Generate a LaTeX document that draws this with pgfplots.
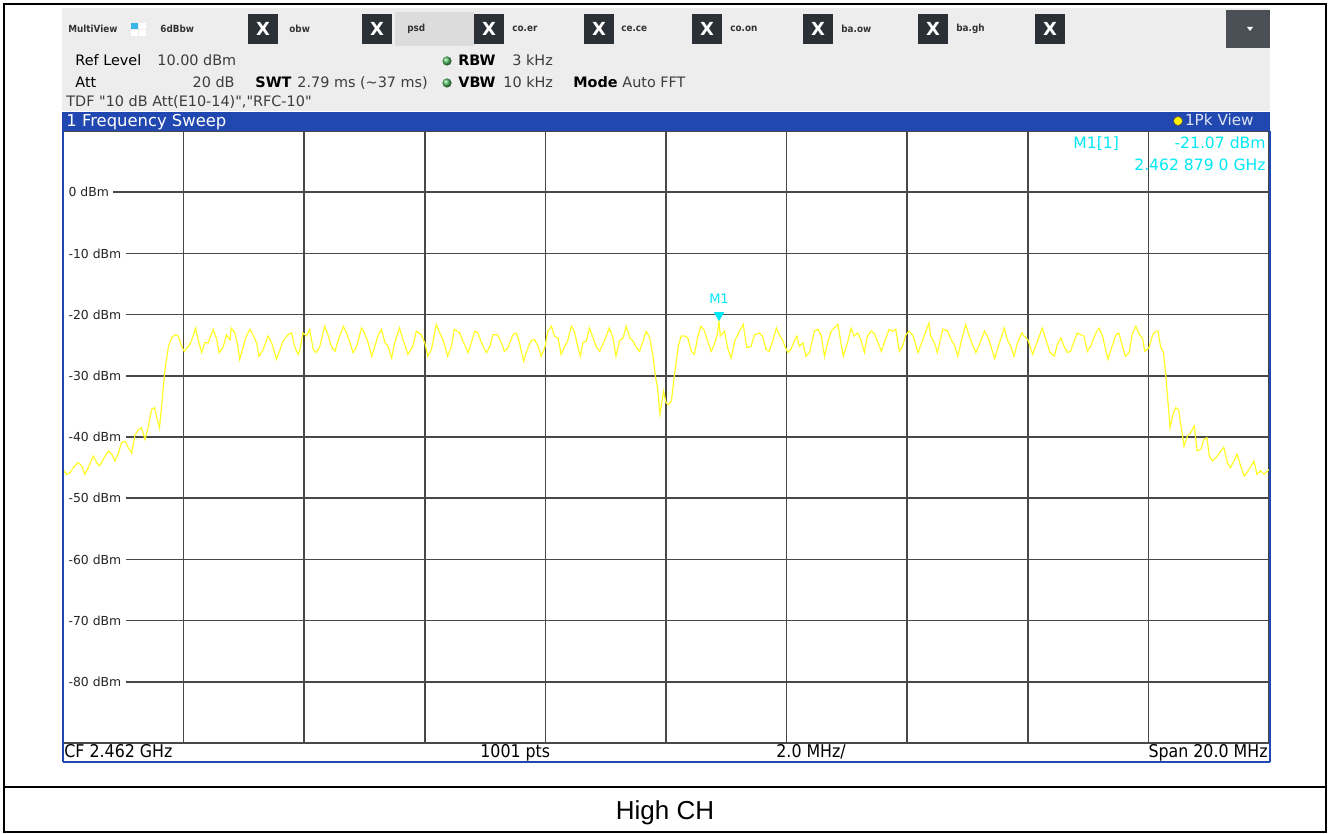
\documentclass[border=0pt]{standalone}
\usepackage{pgfplots}
\pgfplotsset{compat=1.18}
\usepackage{fontspec}
\setmainfont{DejaVu Sans}[Ligatures=TeXOff]
\newfontfamily\cond{DejaVu Sans Condensed}
\newfontfamily\arialf{Liberation Sans}
\definecolor{gridc}{RGB}{72,72,72}
\definecolor{rsblue}{RGB}{32,72,176}
\definecolor{tbgrey}{RGB}{237,237,237}
\definecolor{tabgrey}{RGB}{220,220,220}
\definecolor{xbox}{RGB}{43,48,54}
\definecolor{ddgrey}{RGB}{74,80,85}
\definecolor{mcyan}{RGB}{0,232,245}
\definecolor{trace}{RGB}{255,255,40}
\definecolor{valgrey}{RGB}{60,60,60}
\definecolor{iconblue}{RGB}{56,182,232}
\definecolor{dotgreen}{RGB}{80,185,95}
\newcommand\fs[1]{\fontsize{#1}{#1}\selectfont}

\pgfplotstableread{
f db
-10.00 -45.3
-9.94 -46.1
-9.88 -45.8
-9.83 -45.0
-9.75 -44.2
-9.69 -44.7
-9.64 -46.1
-9.58 -45.0
-9.50 -43.1
-9.44 -44.2
-9.39 -44.7
-9.33 -43.6
-9.25 -42.3
-9.19 -42.8
-9.14 -43.9
-9.08 -42.6
-9.03 -40.9
-8.97 -40.7
-8.92 -41.7
-8.86 -42.6
-8.81 -39.8
-8.75 -38.8
-8.70 -38.5
-8.64 -40.4
-8.59 -38.5
-8.53 -35.5
-8.48 -35.2
-8.45 -36.6
-8.40 -38.5
-8.37 -35.5
-8.31 -29.0
-8.25 -25.2
-8.20 -23.8
-8.14 -23.3
-8.09 -23.5
-8.03 -25.2
-7.99 -26.0
-7.92 -25.2
-7.87 -24.3
-7.80 -22.2
-7.76 -24.1
-7.70 -26.2
-7.65 -24.6
-7.59 -24.6
-7.51 -22.4
-7.45 -24.1
-7.41 -26.2
-7.34 -25.2
-7.29 -23.3
-7.23 -24.1
-7.21 -22.2
-7.15 -23.0
-7.10 -25.2
-7.07 -27.3
-7.01 -25.2
-6.96 -23.5
-6.90 -22.4
-6.85 -23.3
-6.79 -24.6
-6.75 -26.8
-6.68 -25.7
-6.60 -23.5
-6.54 -24.6
-6.46 -27.3
-6.40 -25.7
-6.35 -24.3
-6.27 -23.3
-6.21 -23.0
-6.16 -25.2
-6.10 -26.5
-6.07 -25.7
-6.02 -23.0
-5.96 -23.5
-5.91 -22.4
-5.85 -25.7
-5.80 -26.2
-5.74 -25.2
-5.66 -21.9
-5.60 -23.5
-5.55 -25.2
-5.49 -26.0
-5.44 -24.3
-5.35 -21.9
-5.30 -23.0
-5.24 -24.6
-5.19 -26.2
-5.13 -25.2
-5.05 -22.2
-5.00 -23.0
-4.94 -24.6
-4.88 -26.8
-4.83 -25.2
-4.77 -23.3
-4.72 -22.4
-4.66 -24.6
-4.61 -25.2
-4.55 -27.1
-4.50 -24.6
-4.42 -22.2
-4.36 -24.1
-4.28 -26.5
-4.20 -25.2
-4.14 -22.7
-4.06 -23.3
-4.00 -24.6
-3.95 -26.8
-3.89 -25.7
-3.81 -21.6
-3.75 -23.0
-3.70 -24.1
-3.62 -26.8
-3.56 -25.2
-3.51 -22.4
-3.42 -23.0
-3.37 -24.3
-3.28 -26.2
-3.23 -24.6
-3.17 -22.7
-3.12 -23.0
-3.06 -24.6
-2.98 -26.2
-2.92 -25.2
-2.87 -23.3
-2.79 -23.3
-2.73 -24.6
-2.68 -26.0
-2.62 -25.4
-2.54 -23.3
-2.48 -23.0
-2.43 -24.6
-2.36 -27.6
-2.32 -26.2
-2.24 -24.3
-2.18 -24.1
-2.12 -25.2
-2.07 -26.8
-2.01 -25.4
-1.96 -22.7
-1.90 -21.9
-1.85 -23.5
-1.79 -23.8
-1.74 -26.5
-1.68 -25.2
-1.63 -24.3
-1.57 -21.9
-1.52 -22.7
-1.46 -25.4
-1.42 -26.8
-1.38 -24.6
-1.32 -24.3
-1.27 -22.2
-1.21 -23.8
-1.16 -25.2
-1.10 -26.0
-1.05 -24.9
-0.99 -23.5
-0.94 -22.2
-0.88 -23.8
-0.83 -26.8
-0.77 -24.3
-0.71 -23.8
-0.66 -21.9
-0.60 -23.8
-0.55 -24.3
-0.49 -25.4
-0.44 -26.0
-0.38 -24.3
-0.33 -22.7
-0.27 -23.8
-0.22 -26.5
-0.18 -29.8
-0.14 -32.0
-0.10 -36.3
-0.07 -34.4
-0.04 -32.5
0.00 -34.4
0.04 -34.7
0.09 -34.1
0.14 -29.8
0.20 -25.4
0.25 -23.5
0.31 -23.5
0.36 -23.8
0.42 -26.0
0.47 -26.5
0.53 -23.5
0.58 -21.9
0.64 -22.7
0.69 -24.3
0.75 -26.0
0.80 -24.9
0.85 -23.3
0.879 -21.07
0.90 -23.5
0.97 -22.7
1.02 -25.4
1.08 -27.1
1.14 -24.3
1.22 -22.7
1.28 -21.6
1.34 -25.4
1.41 -25.2
1.47 -23.3
1.55 -23.0
1.60 -23.5
1.66 -25.7
1.71 -26.0
1.77 -24.3
1.83 -22.2
1.88 -23.3
1.94 -24.3
1.96 -24.9
2.02 -26.2
2.07 -25.7
2.13 -24.3
2.17 -23.5
2.21 -25.2
2.27 -24.6
2.32 -26.8
2.38 -26.2
2.46 -22.7
2.52 -22.4
2.57 -23.3
2.63 -26.8
2.68 -24.6
2.74 -22.7
2.79 -22.2
2.85 -21.6
2.90 -24.6
2.94 -26.8
3.01 -24.6
3.07 -22.2
3.12 -23.5
3.18 -23.0
3.23 -24.1
3.29 -26.2
3.34 -23.5
3.40 -22.7
3.45 -23.0
3.54 -25.2
3.57 -26.0
3.62 -24.6
3.70 -22.4
3.76 -22.7
3.81 -22.4
3.87 -26.0
3.92 -25.2
3.98 -23.3
4.03 -22.7
4.09 -23.3
4.15 -25.2
4.18 -26.2
4.23 -24.9
4.28 -23.5
4.36 -21.4
4.39 -23.5
4.45 -24.6
4.50 -26.2
4.59 -22.4
4.67 -22.7
4.73 -24.1
4.78 -24.9
4.84 -26.8
4.89 -24.6
4.97 -21.6
5.03 -23.5
5.08 -24.9
5.14 -26.2
5.22 -24.3
5.28 -22.7
5.33 -23.5
5.39 -25.2
5.45 -27.2
5.51 -25.2
5.61 -22.2
5.66 -24.1
5.72 -25.2
5.77 -26.8
5.83 -24.6
5.90 -23.0
5.94 -23.5
6.00 -24.1
6.08 -26.5
6.16 -24.3
6.24 -22.2
6.30 -24.1
6.37 -26.2
6.44 -26.8
6.49 -24.9
6.55 -23.8
6.60 -25.2
6.66 -26.2
6.71 -26.0
6.77 -24.3
6.82 -23.0
6.88 -23.3
6.93 -23.5
6.99 -26.0
7.04 -25.2
7.13 -23.0
7.18 -22.2
7.24 -23.5
7.29 -25.7
7.33 -27.3
7.39 -25.4
7.46 -23.3
7.51 -23.0
7.57 -25.2
7.62 -26.8
7.68 -26.2
7.73 -23.3
7.79 -21.9
7.85 -23.3
7.90 -23.8
7.94 -26.0
8.01 -25.4
8.07 -23.3
8.12 -22.7
8.16 -22.7
8.20 -25.2
8.25 -26.2
8.29 -30.1
8.33 -34.9
8.36 -38.5
8.40 -36.6
8.45 -35.2
8.50 -35.5
8.55 -38.8
8.59 -41.5
8.65 -39.8
8.70 -39.3
8.76 -38.2
8.81 -42.3
8.87 -42.0
8.92 -40.4
8.97 -40.1
9.01 -43.1
9.06 -43.9
9.12 -43.4
9.20 -42.3
9.25 -41.7
9.31 -44.2
9.36 -45.0
9.42 -43.9
9.47 -42.8
9.53 -44.7
9.59 -46.4
9.67 -45.3
9.75 -43.9
9.80 -46.1
9.86 -45.5
9.92 -46.1
10.00 -45.3
}\tracedata

\begin{document}
\begin{tikzpicture}[x=0.5pt,y=-0.5pt]
\path[fill=white] (0,0) rectangle (1330,834);
\coordinate (axSW) at (63,743);
% toolbar
\fill[tbgrey] (62,8) rectangle (1270,111);
\fill[tabgrey] (395,12) rectangle (474,46);
\foreach \xx in {248,362,474,584,692,803,918,1035} {
  \fill[xbox] (\xx,14) rectangle (\xx+30,44);
  \node[text=white, font=\bfseries\fs{9pt}, inner sep=0] at (\xx+15,29) {X};
}
\fill[ddgrey] (1226,10) rectangle (1270,48);
\fill[white] (1247,27) -- (1253,27) -- (1250,31) -- cycle;
\fill[iconblue] (131,23) rectangle (138,29);
\fill[white] (139,23) rectangle (146,29);
\fill[white] (131,30) rectangle (138,36);
\fill[white] (139,30) rectangle (146,36);
\begin{scope}[every node/.style={anchor=west, inner sep=0, font=\cond\bfseries\fs{4.9pt}, text=black!80}]
\node at (68,29) {MultiView};
\node at (160,29) {6dBbw};
\node at (289,29) {obw};
\node at (407,29) {psd};
\node at (512,29) {co.er};
\node at (621,29) {ce.ce};
\node at (730,29) {co.on};
\node at (841,29) {ba.ow};
\node at (956,29) {ba.gh};
\end{scope}
% settings rows
\begin{scope}[every node/.style={inner sep=0, font=\fs{7.2pt}}]
\node[anchor=base west] at (75,66) {Ref Level};
\node[anchor=base west, text=valgrey] at (157,66) {10.00 dBm};
\node[anchor=base west, font=\bfseries\fs{7.2pt}] at (458,66) {RBW};
\node[anchor=base west, text=valgrey] at (512,66) {3 kHz};
\node[anchor=base west] at (75,88) {Att};
\node[anchor=base east, text=valgrey] at (235,88) {20 dB};
\node[anchor=base west, font=\bfseries\fs{7.2pt}] at (255,88) {SWT};
\node[anchor=base west, text=valgrey] at (297,88) {2.79 ms (\textasciitilde 37 ms)};
\node[anchor=base west, font=\bfseries\fs{7.2pt}] at (458,88) {VBW};
\node[anchor=base west, text=valgrey] at (503,88) {10 kHz};
\node[anchor=base west, font=\bfseries\fs{7.2pt}] at (573,88) {Mode};
\node[anchor=base west, text=valgrey] at (622,88) {Auto FFT};
\node[anchor=base west, text=valgrey] at (66,107) {TDF "10 dB Att(E10-14)","RFC-10"};
\end{scope}
\shade[ball color=dotgreen] (447,61) circle[radius=2.3pt];
\shade[ball color=dotgreen] (447,83) circle[radius=2.3pt];

\begin{axis}[
  at={(axSW)}, anchor=south west,
  scale only axis, width=603pt, height=306pt,
  xmin=-10, xmax=10, ymin=-90, ymax=10,
  xtick={-8,-6,...,8}, xticklabels={},
  ytick={-80,-70,...,0},
  yticklabels={-80 dBm,-70 dBm,-60 dBm,-50 dBm,-40 dBm,-30 dBm,-20 dBm,-10 dBm,0 dBm},
  grid=major,
  major grid style={draw=gridc, line width=0.75pt},
  major tick length=0pt,
  axis line style={draw=gridc, line width=0.75pt},
  axis background/.style={fill=white},
  yticklabel style={anchor=west, xshift=0.3pt, fill=white, inner xsep=2.3pt, inner ysep=1pt, font=\fs{6.2pt}, text=black!85},
  clip=true,
]
\addplot[trace, line width=0.6pt] table[x=f, y=db] {\tracedata};
\addplot[only marks, mark=triangle*, mark size=2.6pt,
  mark options={yshift=3pt, rotate=180, fill=mcyan, draw=mcyan},
  nodes near coords={M1},
  every node near coord/.append style={text=mcyan, font=\fs{6.5pt}, inner sep=0.5pt, yshift=5pt, anchor=south}]
  coordinates {(0.879,-21.07)};
\end{axis}

% frequency sweep bar
\fill[rsblue] (62,112) rectangle (1270,131);
\node[anchor=base west, inner sep=0, text=white, font=\fs{8.2pt}] at (66,127) {1 Frequency Sweep};
\filldraw[fill=yellow, draw=black!70, line width=0.3pt] (1178,121) circle[radius=2.3pt];
\node[anchor=base east, inner sep=0, text=white!85!rsblue, font=\fs{7.6pt}] at (1254,126) {1Pk View};
% marker readout
\node[anchor=base west, inner sep=0, text=mcyan, font=\fs{7.8pt}] at (1073,149) {M1[1]};
\node[anchor=base east, inner sep=0, text=mcyan, font=\fs{7.8pt}] at (1266,149) {-21.07 dBm};
\node[anchor=base east, inner sep=0, text=mcyan, font=\fs{7.8pt}] at (1266,171) {2.462 879 0 GHz};
% frame
\draw[rsblue, line width=1pt] (63,131) -- (63,762);
\draw[rsblue, line width=1pt] (1269.5,131) -- (1269.5,762);
\draw[rsblue, line width=1pt] (62.5,762) -- (1270,762);
% status bar
\begin{scope}[every node/.style={inner sep=0, font=\cond\fs{8.8pt}}]
\node[anchor=base west] at (64,757) {CF 2.462 GHz};
\node[anchor=base west] at (480,757) {1001 pts};
\node[anchor=base west] at (776,757) {2.0 MHz/};
\node[anchor=base east] at (1268,757) {Span 20.0 MHz};
\end{scope}
% outer table
\draw[black, line width=1pt] (4,4) rectangle (1326,832);
\draw[black, line width=1pt] (4,787) -- (1326,787);
\node[anchor=base, inner sep=0, font=\arialf\fs{13pt}] at (665,819) {High CH};
\end{tikzpicture}
\end{document}
